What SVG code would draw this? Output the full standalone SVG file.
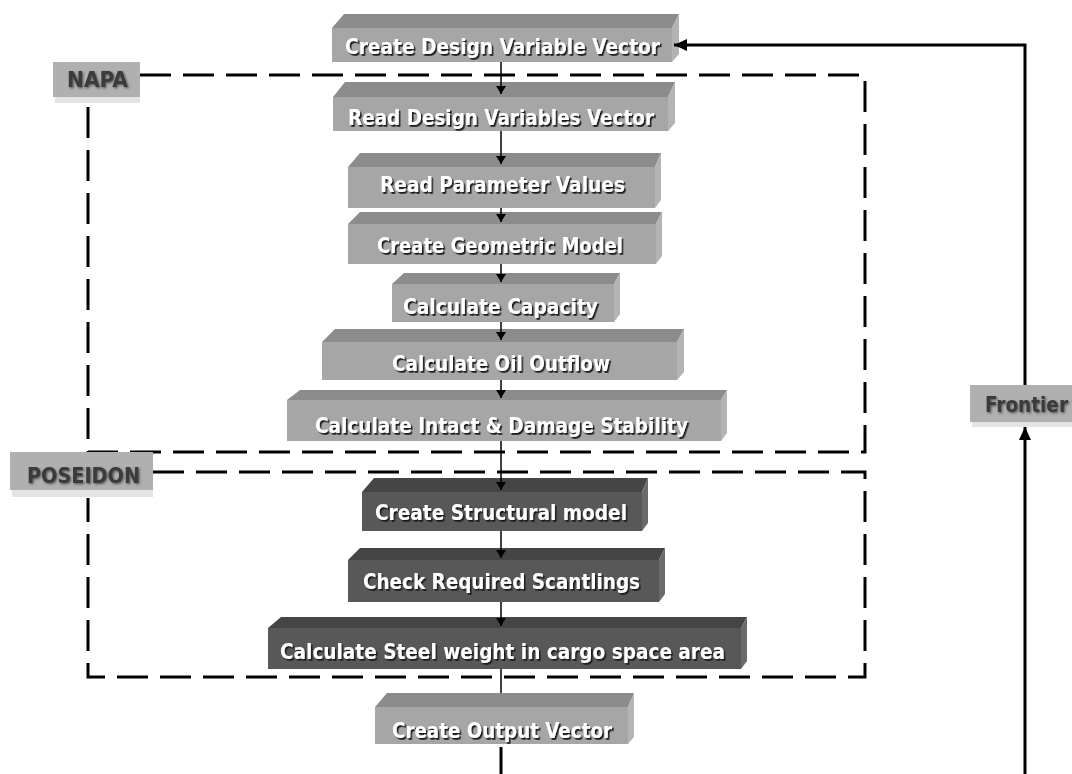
<svg xmlns="http://www.w3.org/2000/svg" width="1072" height="774" viewBox="0 0 1072 774">
<defs>
<filter id="sh" x="-5%" y="-30%" width="110%" height="160%"><feDropShadow dx="1.6" dy="1.8" stdDeviation="0.7" flood-color="#1e1e1e" flood-opacity="1"/></filter>
<filter id="sh2" x="-5%" y="-30%" width="110%" height="160%"><feDropShadow dx="1.2" dy="1.2" stdDeviation="0.9" flood-color="#555" flood-opacity="1"/></filter>
<marker id="ah" markerWidth="8" markerHeight="10" refX="8" refY="5" orient="auto" markerUnits="userSpaceOnUse"><path d="M0,0 L8,5 L0,10 z" fill="#000"/></marker>
<marker id="ahb" markerWidth="13" markerHeight="12" refX="13" refY="6" orient="auto" markerUnits="userSpaceOnUse"><path d="M0,0 L13,6 L0,12 z" fill="#000"/></marker>
</defs>
<style>
.lf{fill:#a6a6a6}.lt{fill:#8c8c8c}.ls{fill:#b4b4b4}
.df{fill:#585858}.dt{fill:#454545}.ds{fill:#6a6a6a}
.bt{font-family:"DejaVu Sans Condensed","DejaVu Sans",sans-serif;font-weight:bold;font-size:21.5px;fill:#fff;filter:url(#sh)}
.lbl{font-family:"DejaVu Sans Condensed","DejaVu Sans",sans-serif;font-weight:bold;font-size:21px;fill:#3a3a3a;filter:url(#sh2)}
.lb{fill:#b0b0b0}.lbs{fill:#e4e4e4}
.dash{fill:none;stroke:#000;stroke-width:3;stroke-dasharray:31 12}
.c{fill:none;stroke:#000;stroke-width:1.5}
.cb{fill:none;stroke:#000;stroke-width:3}
</style>
<rect width="1072" height="774" fill="#fff"/>
<g id="frames">
<path class="dash" d="M140,75 L865,75 L865,452 L88,452 L88,102"/>
<path class="dash" d="M153,472 L865,472 L865,677 L88,677 L88,498"/>
</g>
<g id="n1">
<polygon class="lt" points="332,28 344,14 679,14 672,28"/>
<polygon class="ls" points="672,28 679,14 679,54 672,62"/>
<rect class="lf" x="332" y="28" width="340" height="34"/>
<text class="bt" x="345" y="54" textLength="315" lengthAdjust="spacingAndGlyphs">Create Design Variable Vector</text>
</g>
<g id="n2">
<polygon class="lt" points="333,97 345,82 675,82 668,97"/>
<polygon class="ls" points="668,97 675,82 675,123 668,131"/>
<rect class="lf" x="333" y="97" width="335" height="34"/>
<text class="bt" x="348" y="125" textLength="306" lengthAdjust="spacingAndGlyphs">Read Design Variables Vector</text>
</g>
<g id="n3">
<polygon class="lt" points="348,167 360,153 661,153 655,167"/>
<polygon class="ls" points="655,167 661,153 661,200 655,208"/>
<rect class="lf" x="348" y="167" width="307" height="41"/>
<text class="bt" x="380" y="192" textLength="245" lengthAdjust="spacingAndGlyphs">Read Parameter Values</text>
</g>
<g id="n4">
<polygon class="lt" points="348,224 360,212 662,212 656,224"/>
<polygon class="ls" points="656,224 662,212 662,256 656,264"/>
<rect class="lf" x="348" y="224" width="308" height="40"/>
<text class="bt" x="377" y="253" textLength="246" lengthAdjust="spacingAndGlyphs">Create Geometric Model</text>
</g>
<g id="n5">
<polygon class="lt" points="392,284 404,273 620,273 614,284"/>
<polygon class="ls" points="614,284 620,273 620,314 614,322"/>
<rect class="lf" x="392" y="284" width="222" height="38"/>
<text class="bt" x="403" y="314" textLength="195" lengthAdjust="spacingAndGlyphs">Calculate Capacity</text>
</g>
<g id="n6">
<polygon class="lt" points="322,342 335,329 684,329 677,342"/>
<polygon class="ls" points="677,342 684,329 684,372 677,380"/>
<rect class="lf" x="322" y="342" width="355" height="38"/>
<text class="bt" x="392" y="371" textLength="218" lengthAdjust="spacingAndGlyphs">Calculate Oil Outflow</text>
</g>
<g id="n7">
<polygon class="lt" points="287,400 300,390 727,390 721,400"/>
<polygon class="ls" points="721,400 727,390 727,433 721,441"/>
<rect class="lf" x="287" y="400" width="434" height="41"/>
<text class="bt" x="315" y="433" textLength="373" lengthAdjust="spacingAndGlyphs">Calculate Intact &amp; Damage Stability</text>
</g>
<g id="n8">
<polygon class="dt" points="362,492 374,478 648,478 642,492"/>
<polygon class="ds" points="642,492 648,478 648,523 642,531"/>
<rect class="df" x="362" y="492" width="280" height="39"/>
<text class="bt" x="375" y="520" textLength="252" lengthAdjust="spacingAndGlyphs">Create Structural model</text>
</g>
<g id="n9">
<polygon class="dt" points="348,560 360,548 665,548 659,560"/>
<polygon class="ds" points="659,560 665,548 665,594 659,602"/>
<rect class="df" x="348" y="560" width="311" height="42"/>
<text class="bt" x="363" y="589" textLength="277" lengthAdjust="spacingAndGlyphs">Check Required Scantlings</text>
</g>
<g id="n10">
<polygon class="dt" points="268,628 281,617 747,617 741,628"/>
<polygon class="ds" points="741,628 747,617 747,661 741,669"/>
<rect class="df" x="268" y="628" width="473" height="41"/>
<text class="bt" x="280" y="659" textLength="445" lengthAdjust="spacingAndGlyphs">Calculate Steel weight in cargo space area</text>
</g>
<g id="n11">
<polygon class="lt" points="375,707 387,693 634,693 628,707"/>
<polygon class="ls" points="628,707 634,693 634,737 628,744"/>
<rect class="lf" x="375" y="707" width="253" height="37"/>
<text class="bt" x="392" y="738" textLength="220" lengthAdjust="spacingAndGlyphs">Create Output Vector</text>
</g>
<g id="napa">
<rect class="lbs" x="55" y="96" width="85" height="7"/>
<rect class="lb" x="53" y="62" width="87" height="35"/>
<text class="lbl" x="67" y="87" textLength="61" lengthAdjust="spacingAndGlyphs">NAPA</text>
</g>
<g id="poseidon">
<rect class="lbs" x="12" y="489" width="141" height="8"/>
<rect class="lb" x="10" y="452" width="143" height="38"/>
<text class="lbl" x="27" y="483" textLength="113" lengthAdjust="spacingAndGlyphs">POSEIDON</text>
</g>
<g id="frontier">
<rect class="lbs" x="972" y="421" width="100" height="6"/>
<rect class="lb" x="970" y="385" width="102" height="37"/>
<text class="lbl" x="985" y="412" textLength="83" lengthAdjust="spacingAndGlyphs">Frontier</text>
</g>
<g id="connectors">
<line class="c" x1="501" y1="62" x2="501" y2="94" marker-end="url(#ah)"/>
<line class="c" x1="501" y1="131" x2="501" y2="164" marker-end="url(#ah)"/>
<line class="c" x1="501" y1="208" x2="501" y2="222" marker-end="url(#ah)"/>
<line class="c" x1="501" y1="264" x2="501" y2="282" marker-end="url(#ah)"/>
<line class="c" x1="501" y1="322" x2="501" y2="340" marker-end="url(#ah)"/>
<line class="c" x1="501" y1="380" x2="501" y2="398" marker-end="url(#ah)"/>
<line class="c" x1="501" y1="441" x2="501" y2="490" marker-end="url(#ah)"/>
<line class="c" x1="501" y1="531" x2="501" y2="558" marker-end="url(#ah)"/>
<line class="c" x1="501" y1="602" x2="501" y2="626" marker-end="url(#ah)"/>
<line class="c" x1="501" y1="669" x2="501" y2="693"/>
<line class="cb" x1="501" y1="747" x2="501" y2="774"/>
<line class="cb" x1="1025" y1="774" x2="1025" y2="427" marker-end="url(#ahb)"/>
<polyline class="cb" points="1025,385 1025,45 674,45" marker-end="url(#ahb)"/>
</g>
</svg>
